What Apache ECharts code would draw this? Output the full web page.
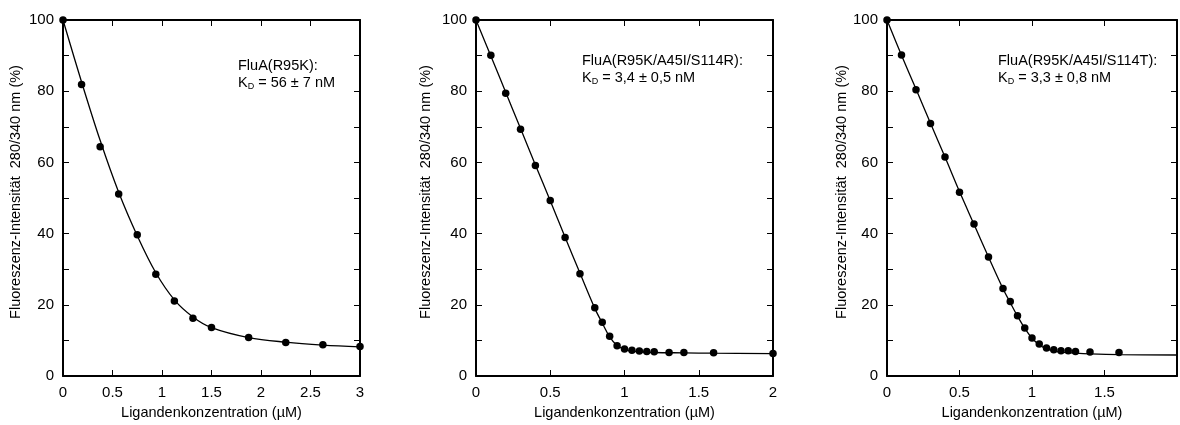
<!DOCTYPE html>
<html>
<head>
<meta charset="utf-8">
<script src="https://cdn.jsdelivr.net/npm/echarts@6/dist/echarts.min.js"></script>
<style>
  html, body { margin: 0; padding: 0; background: #fff; }
  #chart { width: 1180px; height: 425px; }
</style>
</head>
<body>
<div id="chart"></div>
<script>
// ---- data ----
const xTitle = "Ligandenkonzentration (µM)";
const yTitle = "Fluoreszenz-Intensität  280/340 nm (%)";

const labels1 = ["FluA(R95K):", "56 ± 7 nM"];
const labels2 = ["FluA(R95K/A45I/S114R):", "3,4 ± 0,5 nM"];
const labels3 = ["FluA(R95K/A45I/S114T):", "3,3 ± 0,8 nM"];

// panel 1: FluA(R95K)
const x1 = [0, 0.1875, 0.375, 0.5625, 0.75, 0.9375, 1.125, 1.3125, 1.5, 1.875, 2.25, 2.625, 3];
const y1 = [100, 81.9, 64.4, 51.1, 39.7, 28.6, 21.1, 16.2, 13.6, 10.8, 9.4, 8.8, 8.3];
const fitX1 = [0, 0.1875, 0.375, 0.5625, 0.75, 0.9375, 1.125, 1.3125, 1.5, 1.875, 2.25, 2.625, 3];
const fitY1 = [100, 82.6, 66.2, 51.6, 39.4, 29.0, 21.4, 16.6, 13.6, 10.8, 9.5, 8.7, 8.2];

// panel 2: FluA(R95K/A45I/S114R)
const x2 = [0, 0.1, 0.2, 0.3, 0.4, 0.5, 0.6, 0.7, 0.8, 0.85, 0.9, 0.95, 1.0, 1.05, 1.1, 1.15, 1.2, 1.3, 1.4, 1.6, 2.0];
const y2 = [100, 90.1, 79.4, 69.3, 59.1, 49.3, 38.9, 28.7, 19.2, 15.1, 11.2, 8.5, 7.6, 7.2, 7.0, 6.85, 6.8, 6.6, 6.6, 6.5, 6.3];
const fitX2 = [0, 0.1, 0.2, 0.3, 0.4, 0.5, 0.6, 0.7, 0.8, 0.85, 0.9, 0.95, 1.0, 1.05, 1.1, 1.2, 1.4, 1.6, 2.0];
const fitY2 = [100, 89.9, 79.7, 69.5, 59.3, 49.2, 39.0, 28.9, 19.0, 14.9, 11.0, 8.6, 7.5, 7.0, 6.8, 6.6, 6.5, 6.4, 6.3];

// panel 3: FluA(R95K/A45I/S114T)
const x3 = [0, 0.1, 0.2, 0.3, 0.4, 0.5, 0.6, 0.7, 0.8, 0.85, 0.9, 0.95, 1.0, 1.05, 1.1, 1.15, 1.2, 1.25, 1.3, 1.4, 1.6];
const y3 = [100, 90.2, 80.4, 70.9, 61.5, 51.6, 42.7, 33.4, 24.6, 20.9, 16.9, 13.5, 10.7, 9.0, 7.9, 7.4, 7.1, 7.1, 6.9, 6.75, 6.6];
const fitX3 = [0, 0.1, 0.2, 0.3, 0.4, 0.5, 0.6, 0.7, 0.8, 0.85, 0.9, 0.95, 1.0, 1.05, 1.1, 1.15, 1.2, 1.3, 1.4, 1.6, 2.0];
const fitY3 = [100, 90.1, 80.6, 71.0, 61.5, 51.8, 42.6, 33.4, 24.5, 20.6, 16.8, 13.4, 10.6, 8.8, 7.6, 7.0, 6.7, 6.4, 6.2, 6.0, 5.9];

const xMax = [3, 2, 2];
const yTicks = 10;

const FONT = "Liberation Sans, Arial, sans-serif";
const panels = [
    { left: 63, nameGap: 40, xs: x1, ys: y1, fx: fitX1, fy: fitY1, txt: labels1, tx: 238, ty: 58 },
    { left: 476, nameGap: 43, xs: x2, ys: y2, fx: fitX2, fy: fitY2, txt: labels2, tx: 582, ty: 53 },
    { left: 887, nameGap: 38, xs: x3, ys: y3, fx: fitX3, fy: fitY3, txt: labels3, tx: 998, ty: 53 }
];

const zip = (a, b) => a.map((v, i) => [v, b[i]]);

const grid = [], xAxis = [], yAxis = [], series = [], graphic = [];
const frameLine = { show: true, onZero: false, lineStyle: { color: "#000", width: 2 } };
const tickIn = { show: true, inside: true, length: 6, lineStyle: { color: "#000", width: 1 } };

panels.forEach((p, i) => {
    grid.push({ left: p.left, top: 20, width: 297, height: 360 });

    xAxis.push({
        type: "value", gridIndex: i, min: 0, max: xMax[i], interval: 0.5,
        axisLine: frameLine, axisTick: tickIn, splitLine: { show: false },
        axisLabel: {
            color: "#000", fontSize: 15, fontFamily: FONT, margin: 9,
            formatter: v => (i === 2 && v === 2) ? "" : String(v)
        },
        name: xTitle, nameLocation: "middle", nameGap: 29,
        nameTextStyle: { color: "#000", fontSize: 14.5, fontFamily: FONT }
    });
    xAxis.push({
        type: "value", gridIndex: i, position: "top", min: 0, max: xMax[i], interval: 0.5,
        axisLine: frameLine, axisTick: tickIn, axisLabel: { show: false }, splitLine: { show: false }
    });

    yAxis.push({
        type: "value", gridIndex: i, min: 0, max: 100, interval: yTicks,
        axisLine: frameLine, axisTick: tickIn, splitLine: { show: false },
        axisLabel: {
            color: "#000", fontSize: 15, fontFamily: FONT, margin: 9,
            formatter: v => v % 20 === 0 ? String(v) : ""
        },
        name: yTitle, nameLocation: "middle", nameGap: p.nameGap,
        nameTextStyle: { color: "#000", fontSize: 14.5, fontFamily: FONT, padding: [0, 0, 0, 12] }
    });
    yAxis.push({
        type: "value", gridIndex: i, position: "right", min: 0, max: 100, interval: yTicks,
        axisLine: frameLine, axisTick: tickIn, axisLabel: { show: false }, splitLine: { show: false }
    });

    series.push({
        type: "line", xAxisIndex: 2 * i, yAxisIndex: 2 * i,
        data: zip(p.fx, p.fy), smooth: 0.35,
        showSymbol: false, lineStyle: { color: "#000", width: 1.3 }, z: 2
    });
    series.push({
        type: "scatter", xAxisIndex: 2 * i, yAxisIndex: 2 * i,
        data: zip(p.xs, p.ys), symbolSize: 7.5,
        itemStyle: { color: "#000", opacity: 1 }, z: 3
    });

    // annotation
    graphic.push({
        type: "text", left: p.tx, top: p.ty,
        style: { text: p.txt[0], fill: "#000", font: "14.5px " + FONT }
    });
    graphic.push({
        type: "text", left: p.tx, top: p.ty + 16,
        style: {
            text: "{k|K}{d|D}{k| = " + p.txt[1] + "}",
            rich: {
                k: { fontSize: 14.5, fontFamily: FONT, fill: "#000", lineHeight: 17 },
                d: { fontSize: 9, fontFamily: FONT, fill: "#000", lineHeight: 9, padding: [8, 0, 0, 0] }
            }
        }
    });
});

const chart = echarts.init(document.getElementById("chart"));
chart.setOption({
    backgroundColor: "#fff",
    animation: false,
    grid, xAxis, yAxis, series, graphic
});
</script>
</body>
</html>
